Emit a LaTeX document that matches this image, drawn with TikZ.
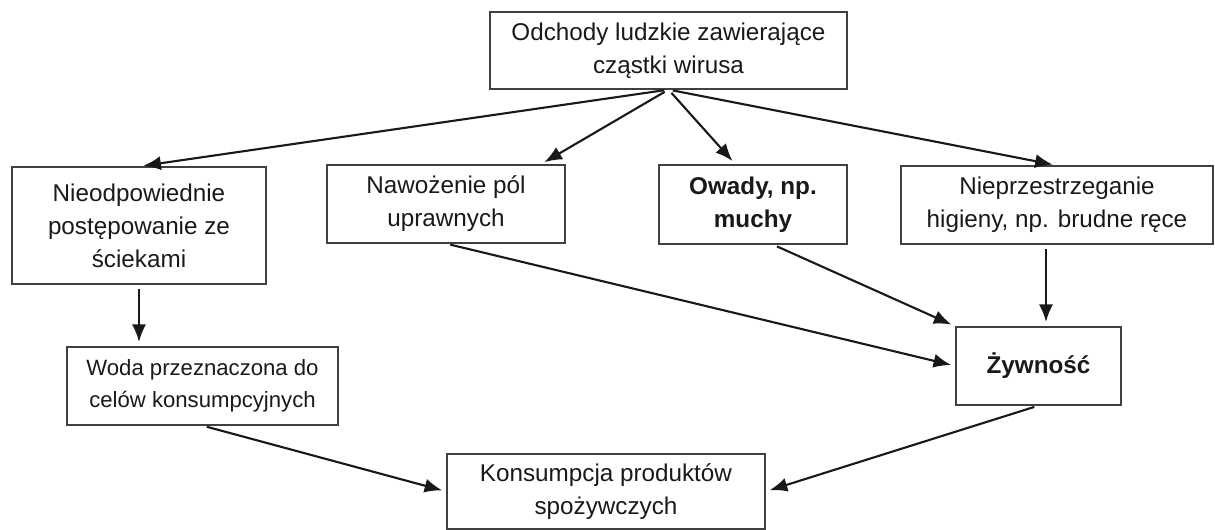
\documentclass[tikz,border=0pt]{standalone}
\usepackage{fontspec}
\setmainfont{Liberation Sans}
\usepackage{tikz}
\usetikzlibrary{arrows.meta, positioning, calc}

\begin{document}
\begin{tikzpicture}[
    x=0.02cm, y=-0.02cm,
    box/.style={draw=black!75, line width=0.7pt, align=center, inner sep=0pt, text=black!90, font=\fontsize{13.8pt}{18.8pt}\selectfont},
    box_bold/.style={box, font=\fontsize{13.8pt}{18.8pt}\selectfont\bfseries},
    box_small/.style={box, font=\fontsize{12.6pt}{18.4pt}\selectfont},
    arrow/.style={-{Latex[length=10pt, width=8pt]}, line width=1.2pt, black!90, shorten <=2.5pt, shorten >=2.5pt}
]

\useasboundingbox (0,0) rectangle (1215,530);

\node[box, minimum width=7.14cm, minimum height=1.54cm] (odchody) at (668.5,50.5) {Odchody ludzkie zawierające\\cząstki wirusa};

\node[box, minimum width=5.08cm, minimum height=2.34cm] (scieki) at (139,225.5) {Nieodpowiednie\\postępowanie ze\\ściekami};
\node[box, minimum width=4.76cm, minimum height=1.56cm] (nawozenie) at (446,204) {Nawożenie pól\\uprawnych};
\node[box_bold, minimum width=3.76cm, minimum height=1.58cm] (owady) at (753,204.5) {Owady, np.\\muchy};
\node[box, minimum width=6.24cm, minimum height=1.56cm] (higiena) at (1057,205) {Nieprzestrzeganie\\higieny, np. brudne ręce};

\node[box_small, minimum width=5.42cm, minimum height=1.56cm] (woda) at (202.5,386) {Woda przeznaczona do\\celów konsumpcyjnych};
\node[box_bold, minimum width=3.3cm, minimum height=1.56cm] (zywnosc) at (1038.5,366) {Żywność};

\node[box, minimum width=6.36cm, minimum height=1.5cm] (konsumpcja) at (606,491.5) {Konsumpcja produktów\\spożywczych};

% edges top
\draw[arrow] (odchody.south) -- (scieki.north);
\draw[arrow] (odchody.south) -- ([xshift=-0.5cm]nawozenie.north east);
\draw[arrow] (odchody.south) -- ([xshift=-0.35cm]owady.north);
\draw[arrow] (odchody.south) -- (higiena.north);

% edges middle
\draw[arrow] (scieki.south) -- (scieki.south |- woda.north);
\draw[arrow] (nawozenie.south) -- (zywnosc.west);
\draw[arrow] ([xshift=0.4cm]owady.south) -- (zywnosc.north west);
\draw[arrow] ([xshift=0.15cm]zywnosc.north |- higiena.south) -- ([xshift=0.15cm]zywnosc.north);

% edges bottom
\draw[arrow] (woda.south) -- (konsumpcja.west);
\draw[arrow] (zywnosc.south) -- (konsumpcja.east);

\end{tikzpicture}
\end{document}
